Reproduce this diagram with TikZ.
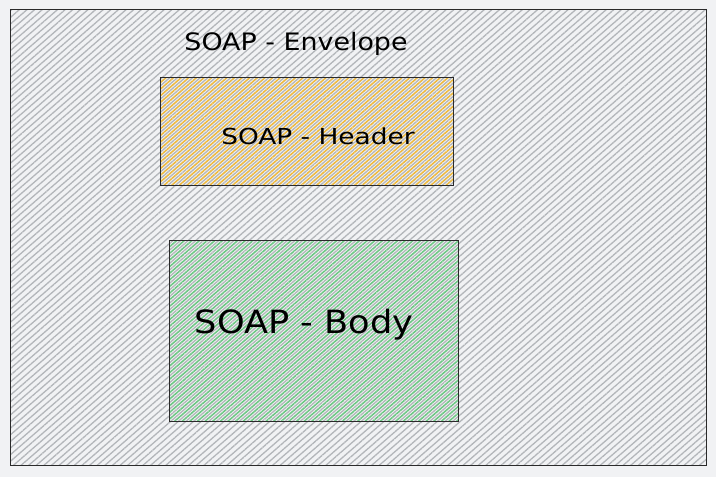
\documentclass[tikz,border=0pt]{standalone}
\usepackage{fontspec}
\setmainfont{DejaVu Sans}
\usetikzlibrary{patterns.meta}
\definecolor{bgc}{HTML}{F1F2F4}
\definecolor{hatchgray}{HTML}{B3B6BA}
\definecolor{hatchyel}{HTML}{EFB93C}
\definecolor{hatchgrn}{HTML}{6CC883}
\definecolor{edge}{HTML}{2A2A2A}
\tikzset{
  box/.style={draw=edge, line width=1.2pt, inner sep=0pt, anchor=north west},
  graylines/.style={pattern={Lines[angle=41,distance=5pt,line width=1.3pt]}, pattern color=hatchgray},
  yellines/.style={pattern={Lines[angle=41,distance=5pt,line width=1.5pt,xshift=3.8pt]}, pattern color=hatchyel},
  grnlines/.style={pattern={Lines[angle=41,distance=5pt,line width=1.5pt,xshift=3.8pt]}, pattern color=hatchgrn},
  lbl/.style={font=\fontsize{#1}{#1}\selectfont, text=black, inner sep=0pt}
}
\begin{document}
\begin{tikzpicture}[x=1pt,y=-1pt]
\fill[bgc] (0,0) rectangle (716,477);
\useasboundingbox (0,0) rectangle (716,477);
\node[box, graylines, minimum width=696pt, minimum height=456pt] (env) at (10,9) {};
\node[box, yellines, minimum width=293pt, minimum height=108pt] (hdr) at (160,77) {};
\node[box, grnlines, minimum width=289pt, minimum height=181pt] (body) at (169,240) {};
\node[lbl=24] (envt) at (296,44) {\scalebox{1.12}[1]{SOAP - Envelope}};
\node[lbl=22] (hdrt) at (318,136) {\scalebox{1.2}[1]{SOAP - Header}};
\node[lbl=32] (bodyt) at (304,325) {\scalebox{1.1}[1]{SOAP - Body}};
\end{tikzpicture}
\end{document}
